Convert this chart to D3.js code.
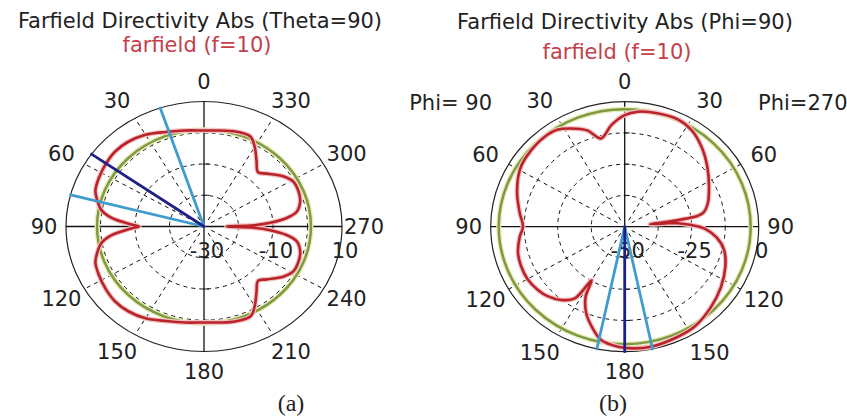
<!DOCTYPE html>
<html>
<head>
<meta charset="utf-8">
<script src="https://cdn.jsdelivr.net/npm/d3@7"></script>
<style>
  body { margin: 0; background: #fff; }
  text { font-family: "DejaVu Sans", sans-serif; fill: #222; }
</style>
</head>
<body>
<script>
var w = 847;
var h = 416;

// angle (deg, counter-clockwise from top) and directivity in dBi
var thetaCut = [
  [0, 0.7], [10, 1.2], [20, 2.2], [30, 3.9], [39, 4.9], [47, 5.2], [55, 4.8], [63, 4.2],
  [70, 3.5], [75, 2.0], [80, 0.2], [83, -2.0], [85, -4.2], [87, -7.2], [88.5, -9.2], [90, -11.2],
  [91.5, -9.2], [93, -7.2], [95, -4.2], [97, -2.0], [100, 0.2], [105, 2.0], [110, 3.5], [117, 4.2],
  [125, 4.8], [133, 5.2], [141, 4.9], [150, 3.9], [160, 2.2], [170, 1.2], [180, 0.7],
  [195, 1.6], [205, 1.8], [210, -0.6], [216, -4.1], [222, -6.6], [227, -5.2], [235, -2.0],
  [241, -0.4], [248, -0.4], [254, -1.0], [260, -2.7], [263.5, -5.9], [266.5, -10.8],
  [268.5, -15.6], [270, -23.4], [271.5, -15.6], [273.5, -10.8], [276.5, -5.9], [280, -2.7],
  [286, -1.0], [292, -0.4], [299, -0.4], [305, -2.0], [313, -5.2], [318, -6.6], [324, -4.1],
  [330, -0.6], [335, 1.8], [345, 1.6]
];

var phiCut = [
  [0, -5.35], [7, -9.05], [14, -13.6], [20, -9.0], [27, -5.9], [33, -3.8], [40, -3.25],
  [49, -3.6], [57, -4.25], [63, -5.45], [72, -7.8], [82, -10.45], [90, -12.05], [96, -10.6],
  [105, -8.8], [112, -8.25], [120, -8.1], [128, -8.9], [134, -10.0], [141, -12.3], [147, -15.8],
  [150, -25.3], [152.5, -18.4], [157.5, -12.5], [163, -8.1], [169, -3.85], [177, -1.95],
  [184, -1.2], [192, -1.0], [204, -1.7], [213, -2.25], [225, -4.5], [236, -6.7], [247, -9.2],
  [256, -11.8], [263, -15.55], [268.5, -20.15], [271.5, -25.1], [274, -30], [275, -35],
  [276, -40.5], [277, -34], [278, -27.5], [279, -22.5], [281, -20], [287, -17.55],
  [297, -14.7], [308, -10.9], [318, -7.1], [327, -4.05], [335, -2.7], [345, -3.0], [354, -3.75]
];

var angleTicks = [0, 30, 60, 90, 120, 150, 180, 210, 240, 270, 300, 330];
var spokeAngles = [30, 60, 120, 150, 210, 240, 300, 330];

var leftRange = [-30, 10];
var leftRings = [-20, -10, 0];
var leftRadialLabels = [-30, -10, 10];
var leftGreen = 1.0;
var leftBeams = { main: 54.6, lower: 18.5, upper: 75.3 };

var rightRange = [-50, 0];
var rightRings = [-37.5, -25, -12.5];
var rightRadialLabels = [-50, -25, 0];
var rightGreen = -3.0;
var rightBeams = { main: 180, lower: 168, upper: 192 };

var svg = d3.select("body").append("svg")
  .attr("width", w)
  .attr("height", h);

function drawPolar(o) {
  var g = svg.append("g");
  var rad = Math.PI / 180;

  var r = d3.scaleLinear().domain(o.range).range([0, 1]).clamp(true);
  var x = d3.scaleLinear().domain([-1, 1]).range([o.cx - o.rx, o.cx + o.rx]);
  var y = d3.scaleLinear().domain([-1, 1]).range([o.cy + o.ry, o.cy - o.ry]);

  function px(a, f) { return x(-f * Math.sin(a * rad)); }
  function py(a, f) { return y(f * Math.cos(a * rad)); }

  // dashed rings
  g.selectAll(".ring").data(o.rings).enter().append("ellipse")
    .attr("cx", o.cx).attr("cy", o.cy)
    .attr("rx", function(d) { return x(r(d)) - o.cx; })
    .attr("ry", function(d) { return o.cy - y(r(d)); })
    .attr("fill", "none").attr("stroke", "#111")
    .attr("stroke-width", 1).attr("stroke-dasharray", "4,4");

  // dashed spokes
  g.selectAll(".spoke").data(spokeAngles).enter().append("line")
    .attr("x1", function(d) { return px(d, 0.06); })
    .attr("y1", function(d) { return py(d, 0.06); })
    .attr("x2", function(d) { return px(d, 1); })
    .attr("y2", function(d) { return py(d, 1); })
    .attr("stroke", "#111").attr("stroke-width", 1).attr("stroke-dasharray", "4,4");

  // outer circle
  g.append("ellipse")
    .attr("cx", o.cx).attr("cy", o.cy)
    .attr("rx", o.rx).attr("ry", o.ry)
    .attr("fill", "none").attr("stroke", "#222").attr("stroke-width", 1.2);

  // solid cross axes
  g.append("line")
    .attr("x1", x(-1)).attr("x2", x(1)).attr("y1", y(0)).attr("y2", y(0))
    .attr("stroke", "#111").attr("stroke-width", 1.3);
  g.append("line")
    .attr("x1", x(0)).attr("x2", x(0)).attr("y1", y(1)).attr("y2", y(-1))
    .attr("stroke", "#111").attr("stroke-width", 1.3);

  // little ticks where the rings cross the vertical axis
  o.rings.forEach(function(v) {
    [1, -1].forEach(function(s) {
      g.append("line")
        .attr("x1", x(0) - 1).attr("x2", x(0) + 5)
        .attr("y1", y(s * r(v))).attr("y2", y(s * r(v)))
        .attr("stroke", "#111").attr("stroke-width", 1);
    });
  });

  // radial value labels
  g.selectAll(".rlab").data(o.radialLabels).enter().append("text")
    .attr("x", function(d) { return x(r(d)) + 3; })
    .attr("y", o.cy + 24)
    .attr("dy", "0.35em")
    .attr("text-anchor", "middle")
    .style("font-size", "21px")
    .text(function(d) { return d; });

  // green reference circle
  [["#e9ecb4", 5], ["#7f9a45", 2.5]].forEach(function(s) {
    g.append("ellipse")
      .attr("cx", o.cx).attr("cy", o.cy)
      .attr("rx", x(r(o.green)) - o.cx)
      .attr("ry", o.cy - y(r(o.green)))
      .attr("fill", "none").attr("stroke", s[0]).attr("stroke-width", s[1]);
  });

  // farfield pattern
  var line = d3.line()
    .x(function(d) { return px(d[0], r(d[1])); })
    .y(function(d) { return py(d[0], r(d[1])); })
    .curve(d3.curveCatmullRomClosed.alpha(0.5));

  g.append("path").datum(o.pattern)
    .attr("d", line).attr("fill", "none")
    .attr("stroke", "#f2c4c4").attr("stroke-width", 5).attr("stroke-linejoin", "round");
  g.append("path").datum(o.pattern)
    .attr("d", line).attr("fill", "none")
    .attr("stroke", "#bb232b").attr("stroke-width", 2.6).attr("stroke-linejoin", "round");

  // 3 dB beam width and main lobe direction
  var beams = [
    [o.beams.lower, "#3f9ccd"],
    [o.beams.upper, "#3f9ccd"],
    [o.beams.main, "#1f1f8a"]
  ];
  g.selectAll(".beam").data(beams).enter().append("line")
    .attr("x1", x(0)).attr("y1", y(0))
    .attr("x2", function(d) { return px(d[0], 1); })
    .attr("y2", function(d) { return py(d[0], 1); })
    .attr("stroke", function(d) { return d[1]; })
    .attr("stroke-width", 2.8).attr("stroke-linecap", "round");

  // angle labels
  g.selectAll(".alab").data(angleTicks).enter().append("text")
    .attr("x", function(d) {
      var s = Math.sin(d * rad), c = Math.cos(d * rad);
      var sign = Math.abs(s) < 1e-6 ? 0 : (s > 0 ? 1 : -1);
      return o.cx - (o.rx + 22) * s - 8 * sign * Math.abs(c);
    })
    .attr("y", function(d) { return o.cy - (o.ry + 20) * Math.cos(d * rad); })
    .attr("dy", "0.35em")
    .attr("text-anchor", "middle")
    .style("font-size", "21px")
    .text(o.tickText);
}

// titles
svg.append("text").attr("x", 200).attr("y", 28).attr("text-anchor", "middle")
  .style("font-size", "21px").text("Farfield Directivity Abs (Theta=90)");
svg.append("text").attr("x", 197).attr("y", 52).attr("text-anchor", "middle")
  .style("font-size", "21px").style("fill", "#c4404a").text("farfield (f=10)");
svg.append("text").attr("x", 625).attr("y", 29).attr("text-anchor", "middle")
  .style("font-size", "21px").text("Farfield Directivity Abs (Phi=90)");
svg.append("text").attr("x", 617).attr("y", 59).attr("text-anchor", "middle")
  .style("font-size", "21px").style("fill", "#c4404a").text("farfield (f=10)");

svg.append("text").attr("x", 492).attr("y", 103).attr("dy", "0.35em")
  .attr("text-anchor", "end").style("font-size", "21px").text("Phi= 90");
svg.append("text").attr("x", 758).attr("y", 103).attr("dy", "0.35em")
  .attr("text-anchor", "start").style("font-size", "21px").text("Phi=270");

drawPolar({
  cx: 204, cy: 226.5, rx: 138, ry: 125,
  range: leftRange, rings: leftRings, radialLabels: leftRadialLabels,
  green: leftGreen, pattern: thetaCut, beams: leftBeams,
  tickText: function(d) { return d; }
});

drawPolar({
  cx: 624.7, cy: 226.7, rx: 134, ry: 125,
  range: rightRange, rings: rightRings, radialLabels: rightRadialLabels,
  green: rightGreen, pattern: phiCut, beams: rightBeams,
  tickText: function(d) { return d <= 180 ? d : 360 - d; }
});

// captions
svg.append("text").attr("x", 291).attr("y", 411).attr("text-anchor", "middle")
  .style("font-family", "'Liberation Serif', serif").style("font-size", "24px").text("(a)");
svg.append("text").attr("x", 613).attr("y", 411).attr("text-anchor", "middle")
  .style("font-family", "'Liberation Serif', serif").style("font-size", "24px").text("(b)");
</script>
</body>
</html>
